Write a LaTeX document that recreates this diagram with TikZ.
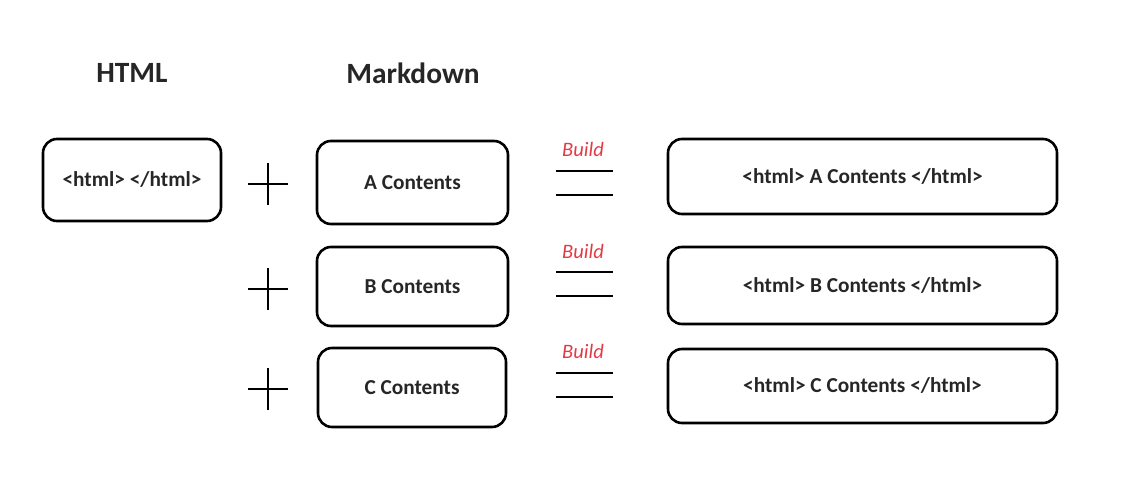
\documentclass[tikz,border=0pt]{standalone}
\usepackage{fontspec}
\setmainfont{Carlito}
\definecolor{buildred}{HTML}{E23B45}
\begin{document}
\begin{tikzpicture}[x=1pt,y=-1pt,
  box/.style={draw=black, line width=2.6pt, rounded corners=14pt, font=\fontsize{21.3}{24}\selectfont\bfseries, text=black!85},
  title/.style={font=\fontsize{29.4}{33}\selectfont\bfseries, text=black!85},
  buildlbl/.style={font=\fontsize{20.5}{24}\selectfont\itshape, text=buildred},
  pl/.style={line width=1.8pt},
  eq/.style={line width=2.6pt}]
\useasboundingbox (0,0) rectangle (1124,484);
\node[title] (th) at (132,73) {HTML};
\node[title] (tm) at (413,73) {Markdown};
% left boxes
\node[box, minimum width=178pt, minimum height=82pt] (html) at (132,180) {<html> </html>};
\node[box, minimum width=191pt, minimum height=83pt] (a) at (412.5,182.5) {A Contents};
\node[box, minimum width=191pt, minimum height=79pt] (b) at (412.5,286.5) {B Contents};
\node[box, minimum width=188pt, minimum height=79pt] (c) at (412,387.5) {C Contents};
% right boxes
\node[box, minimum width=389pt, minimum height=75pt] (ra) at (862.5,176.5) {<html> A Contents </html>};
\node[box, minimum width=389pt, minimum height=77pt] (rb) at (862.5,285.5) {<html> B Contents </html>};
\node[box, minimum width=389pt, minimum height=74pt] (rc) at (862.5,386) {<html> C Contents </html>};
% plus signs
\foreach \n/\y in {pa/184,pb/289,pc/389}{
  \coordinate (\n) at (268,\y);
  \draw[pl] ([xshift=-20pt]\n) -- ([xshift=20pt]\n);
  \draw[pl] ([yshift=-21pt]\n) -- ([yshift=21pt]\n);
}
% equals and build
\foreach \n/\y in {ea/183,eb/284,ec/385}{
  \coordinate (\n) at (584.5,\y);
  \draw[eq] ([shift={(-28.5pt,-12pt)}]\n) -- ([shift={(28.5pt,-12pt)}]\n);
  \draw[eq] ([shift={(-28.5pt,12pt)}]\n) -- ([shift={(28.5pt,12pt)}]\n);
}
\node[buildlbl] (ba) at (583,149) {Build};
\node[buildlbl] (bb) at (583,251) {Build};
\node[buildlbl] (bc) at (583,351) {Build};
\end{tikzpicture}
\end{document}
